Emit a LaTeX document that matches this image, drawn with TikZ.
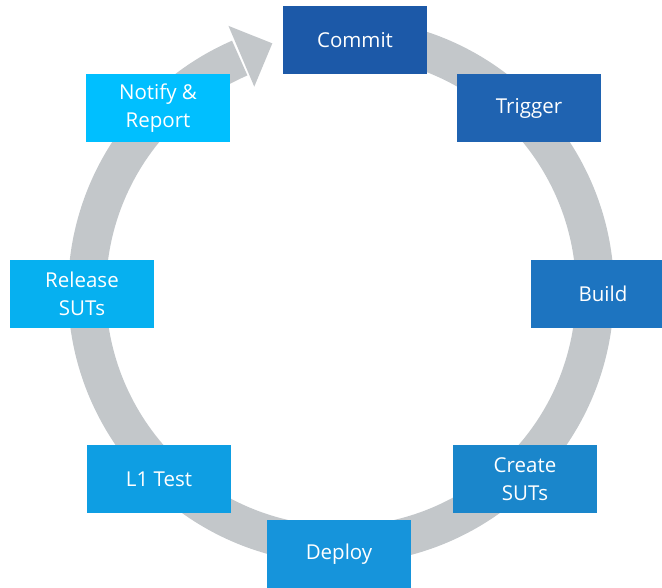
\documentclass[tikz,border=0pt]{standalone}
\usepackage{fontspec}
\setmainfont{Open Sans}
\usepackage{tikz}
\usetikzlibrary{calc}

\definecolor{ringgray}{HTML}{C3C7CA}
\definecolor{commitblue}{HTML}{1C59A8}
\definecolor{triggerblue}{HTML}{1F63B1}
\definecolor{buildblue}{HTML}{1D74C0}
\definecolor{createblue}{HTML}{1A86CB}
\definecolor{deployblue}{HTML}{1694DB}
\definecolor{testblue}{HTML}{0E9EE3}
\definecolor{releaseblue}{HTML}{06B0F0}
\definecolor{notifyblue}{HTML}{00BFFF}

\tikzset{
  stage/.style={fill=#1, text=white, minimum width=144pt, minimum height=68pt,
    inner sep=0pt, align=center, font=\fontsize{20.5}{28}\selectfont}
}

\begin{document}
\begin{tikzpicture}[x=1pt,y=1pt]
  \useasboundingbox (0,0) rectangle (662,588);
  \clip (0,0) rectangle (662,588);

  % ring with arrow head
  \coordinate (C) at (341,297);
  \draw[ringgray, line width=38pt] ($(C)+(80:254)$) arc[start angle=80, end angle=-246.5, radius=254];
  \fill[ringgray] ($(C)+(113:288)$) -- ($(C)+(105.5:257)$) -- ($(C)+(113:222)$) -- cycle;

  % stages
  \node[stage=commitblue] (Commit) at (355,548) {Commit};
  \node[stage=triggerblue] (Trigger) at (529,480) {Trigger};
  \node[stage=buildblue] (Build) at (603,294) {Build};
  \node[stage=createblue] (Create) at (525,109) {Create\\SUTs};
  \node[stage=deployblue] (Deploy) at (339,34) {Deploy};
  \node[stage=testblue] (Test) at (159,109) {L1 Test};
  \node[stage=releaseblue] (Release) at (82,294) {Release\\SUTs};
  \node[stage=notifyblue] (Notify) at (158,480) {Notify \&\\Report};

\end{tikzpicture}
\end{document}
